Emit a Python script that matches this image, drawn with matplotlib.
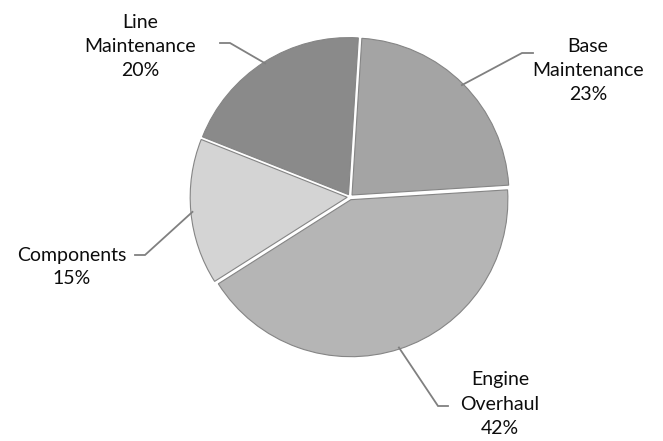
import numpy as np
import matplotlib
matplotlib.use('Agg')
import matplotlib.pyplot as plt

segments = ['Base\nMaintenance', 'Engine\nOverhaul', 'Components', 'Line\nMaintenance']
shares = [23, 42, 15, 20]
shades = ['#a4a4a4', '#b5b5b5', '#d4d4d4', '#8a8a8a']

# label block centre and leader elbow / end, in pixels of the 663x441 canvas
label_xy = [(588, 70), (500, 404), (72, 267), (140, 47)]
elbow_xy = [(522, 53), (438, 406), (145, 255), (230, 43)]
end_xy = [(533, 53), (448, 406), (135, 255), (220, 43)]

W, H = 663, 441
cx, cy, R = 350, 197, 157


def px(x, y):
    return (x - cx) / R, (cy - y) / R


plt.rcParams['font.family'] = ['Lato', 'DejaVu Sans']

fig = plt.figure(figsize=(W / 100, H / 100), dpi=100)
ax = fig.add_axes([0, 0, 1, 1])

wedges, _ = ax.pie(shares, startangle=86.4, counterclock=False, radius=1,
                   colors=shades, explode=[0.018] * len(shares),
                   wedgeprops=dict(edgecolor='#858585', linewidth=0.8))

# pie() resets the limits, so fix the canvas mapping afterwards
ax.set_xlim(-cx / R, (W - cx) / R)
ax.set_ylim(-(H - cy) / R, cy / R)
ax.set_aspect('auto')
ax.axis('off')

for w, name, v, lxy, exy, fxy in zip(wedges, segments, shares,
                                     label_xy, elbow_xy, end_xy):
    mid = np.deg2rad((w.theta1 + w.theta2) / 2)
    ox, oy = w.center
    x0, y0 = ox + 0.99 * np.cos(mid), oy + 0.99 * np.sin(mid)
    x1, y1 = px(*exy)
    x2, y2 = px(*fxy)
    ax.plot([x0, x1, x2], [y0, y1, y2], color='#808080', lw=1.3,
            solid_joinstyle='miter')
    tx, ty = px(*lxy)
    ax.text(tx, ty, f'{name}\n{v}%', ha='center', va='center',
            fontsize=14, color='#0d0d0d', linespacing=1.5)

fig.savefig('out.png', dpi=100)
